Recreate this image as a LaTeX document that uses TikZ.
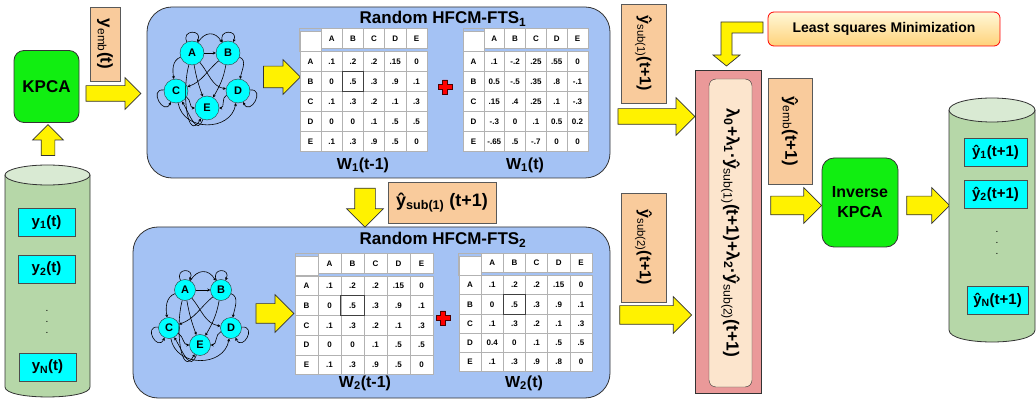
\documentclass[tikz,border=0pt]{standalone}
\usepackage{fontspec}
\setmainfont{Liberation Sans}
\usetikzlibrary{shapes.arrows, arrows.meta, positioning, matrix}

\definecolor{hfcmblue}{HTML}{A4C2F4}
\definecolor{tagorange}{HTML}{F9CB9C}
\definecolor{kpcagreen}{HTML}{11EE11}
\definecolor{nodecyan}{HTML}{00FFFF}
\definecolor{dbgreen}{HTML}{B6D7A8}
\definecolor{dbtop}{HTML}{D9EAD3}
\definecolor{mixpink}{HTML}{EA9999}
\definecolor{mixcream}{HTML}{FCE5CD}
\definecolor{lsqtop}{HTML}{FFF8D8}
\definecolor{lsqbottom}{HTML}{FFD27A}
\definecolor{edgegray}{HTML}{333333}

\newcommand{\fsz}[1]{\fontsize{#1}{#1}\selectfont}
\newcommand{\sbr}[1]{\textsubscript{\mdseries #1}}
% chunky red plus between two weight matrices
\newcommand{\redplus}[1]{%
  \filldraw[fill=red, draw=black!70!red, line width=0.5pt] (#1) ++(-2.5,-7)
    -- ++(5,0) -- ++(0,4.5) -- ++(4.5,0) -- ++(0,5) -- ++(-4.5,0) -- ++(0,4.5)
    -- ++(-5,0) -- ++(0,-4.5) -- ++(-4.5,0) -- ++(0,-5) -- ++(4.5,0) -- cycle;}

\tikzset{
  hfcm/.style={rectangle, rounded corners=25, draw=edgegray, fill=hfcmblue, line width=0.8pt},
  tag/.style={rectangle, draw=black!65, fill=tagorange, inner sep=2pt, font=\bfseries\fsz{17}},
  kpcabox/.style={rectangle, rounded corners=10, draw=edgegray, fill=kpcagreen, line width=0.8pt,
    align=center, font=\bfseries\fsz{17}},
  ybox/.style={rectangle, draw=black!70, fill=nodecyan, inner sep=1pt, minimum height=28, font=\bfseries\fsz{15}},
  fcm/.style={circle, draw=edgegray, fill=nodecyan, inner sep=0, font=\bfseries\fsz{11}},
  fcmedge/.style={-{Stealth[length=3pt,width=3pt]}, line width=0.6pt},
  wtab/.style 2 args={matrix of nodes, nodes in empty cells, column sep=-0.5pt, row sep=-0.5pt,
    nodes={rectangle, draw=black!30, fill=white, line width=0.5pt, inner sep=0,
      minimum width=#1, minimum height=#2, font=\bfseries\fsz{8}}},
  fat/.style 2 args={single arrow, draw=edgegray, fill=yellow, line width=0.7pt,
    minimum width=0, inner xsep=0, inner ysep=#1, single arrow head extend=#2},
}

\begin{document}
\begin{tikzpicture}[x=1pt, y=-1pt]
\fill[white] (0,0) rectangle (1036,403);
\useasboundingbox (0,0) rectangle (1036,403);

% input database
\fill[dbgreen] (5,175) -- (5,387) .. controls (5,400.3) and (90,400.3) .. (90,387) -- (90,175) -- cycle;
\draw[edgegray, line width=0.8pt] (5,175) -- (5,387) .. controls (5,400.3) and (90,400.3) .. (90,387) -- (90,175);
\filldraw[fill=dbtop, draw=edgegray, line width=0.8pt] (47.5,175) ellipse[x radius=42.5, y radius=10];
\node[ybox, minimum width=57] (y1) at (46.5,222.5) {y\textsubscript{1}(t)};
\node[ybox, minimum width=57] (y2) at (46.5,269) {y\textsubscript{2}(t)};
\node[font=\fontsize{10}{11}\selectfont, align=center, inner sep=0] (ydots) at (47,322) {.\\.\\.};
\node[ybox, minimum width=57] (yN) at (47.5,367) {y\textsubscript{N}(t)};

\node[kpcabox, minimum width=65, minimum height=72] (kpca) at (46.5,86.5) {KPCA};
\node[fat={6.5}{8.5}, minimum height=31, rotate=90] (upa) at (48,143.5) {};
\node[fat={7.5}{8}, minimum height=55] (kpa) at (109.5,93.5) {};
\node[tag, rotate=-90, minimum width=74, minimum height=30] (yemb) at (105,44) {y\sbr{emb}(t)};

% the two random HFCM-FTS blocks
\node[hfcm, minimum width=463, minimum height=171] (box1) at (378.5,92.5) {};
\node[hfcm, minimum width=477, minimum height=171] (box2) at (371.5,312.5) {};
\node[font=\bfseries\fsz{17}] (title1) at (443,19) {Random HFCM-FTS\textsubscript{1}};
\node[font=\bfseries\fsz{17}] (title2) at (443,240) {Random HFCM-FTS\textsubscript{2}};

\foreach \g/\gx/\gy/\r in {1/0/0/24, 2/-7/237/21} {
  \begin{scope}[shift={(\gx,\gy)}]
    \node[fcm, minimum size=\r] (g\g-A) at (192,53) {A};
    \node[fcm, minimum size=\r] (g\g-B) at (228,53) {B};
    \node[fcm, minimum size=\r] (g\g-C) at (176,91) {C};
    \node[fcm, minimum size=\r] (g\g-D) at (238,91) {D};
    \node[fcm, minimum size=\r] (g\g-E) at (207,108) {E};
    \draw[fcmedge] (g\g-A) -- (g\g-B);
    \draw[fcmedge] (g\g-A) to[loop, out=115, in=65, min distance=14] (g\g-A);
    \draw[fcmedge] (g\g-B) to[loop, out=115, in=65, min distance=14] (g\g-B);
    \draw[fcmedge] (g\g-C) to[loop, out=175, in=245, min distance=16] (g\g-C);
    \draw[fcmedge] (g\g-D) to[loop, out=5, in=-65, min distance=16] (g\g-D);
    \draw[fcmedge] (g\g-A) to[out=60, in=120, looseness=1.4] (g\g-B);
    \draw[fcmedge] (g\g-A) to[out=200, in=100] (g\g-C);
    \draw[fcmedge] (g\g-B) to[out=-20, in=80] (g\g-D);
    \draw[fcmedge] (g\g-B) to[out=220, in=20] (g\g-C);
    \draw[fcmedge] (g\g-A) to[out=-50, in=170] (g\g-D);
    \draw[fcmedge] (g\g-A) to[out=-80, in=110] (g\g-E);
    \draw[fcmedge] (g\g-B) to[out=-100, in=60] (g\g-E);
    \draw[fcmedge] (g\g-C) to[out=-30, in=180] (g\g-E);
    \draw[fcmedge] (g\g-D) to[out=200, in=0] (g\g-E);
    \draw[fcmedge] (g\g-C) to[out=-80, in=-100, looseness=1.3] (g\g-D);
    \draw[fcmedge] (g\g-E) to[out=-110, in=-60, looseness=1.6] (g\g-C);
    \draw[fcmedge] (g\g-A) to[out=-105, in=-120, looseness=1.3] (g\g-E);
  \end{scope}
}
\node[fat={10.5}{6.5}, minimum height=37] (g1a) at (276.5,77) {};
\node[fat={9.5}{9}, minimum height=38] (g2a) at (270,313.5) {};

% weight matrices
\matrix[wtab={21.2}{20}] (w1a) at (363.5,90) {
 ~ & A & B & C & D & E \\
 A & .1 & .2 & .2 & .15 & 0 \\
 B & 0 & .5 & .3 & .9 & .1 \\
 C & .1 & .3 & .2 & .1 & .3 \\
 D & 0 & 0 & .1 & .5 & .5 \\
 E & .1 & .3 & .9 & .5 & 0 \\
};
\matrix[wtab={20.8}{20}] (w1b) at (525.5,90) {
 ~ & A & B & C & D & E \\
 A & .1 & -.2 & .25 & .55 & 0 \\
 B & 0.5 & -.5 & .35 & .8 & -.1 \\
 C & .15 & .4 & .25 & .1 & -.3 \\
 D & -.3 & 0 & .1 & 0.5 & 0.2 \\
 E & -.65 & .5 & -.7 & 0 & 0 \\
};
\matrix[wtab={23}{19.7}] (w2a) at (364,314) {
 ~ & A & B & C & D & E \\
 A & .1 & .2 & .2 & .15 & 0 \\
 B & 0 & .5 & .3 & .9 & .1 \\
 C & .1 & .3 & .2 & .1 & .3 \\
 D & 0 & 0 & .1 & .5 & .5 \\
 E & .1 & .3 & .9 & .5 & 0 \\
};
\matrix[wtab={22.2}{19.2}] (w2b) at (525.5,312.5) {
 ~ & A & B & C & D & E \\
 A & .1 & .2 & .2 & .15 & 0 \\
 B & 0 & .5 & .3 & .9 & .1 \\
 C & .1 & .3 & .2 & .1 & .3 \\
 D & 0.4 & 0 & .1 & .5 & .5 \\
 E & .1 & .3 & .9 & .8 & 0 \\
};
\foreach \w in {w1a, w1b, w2a, w2b}
  \draw[black!30, line width=0.5pt] (\w-1-1.west |- \w-1-2.north) rectangle (\w-2-1.north east);
\foreach \w in {w1a, w2a, w2b}
  \draw[black!75, line width=0.6pt] (\w-3-3.north west) rectangle (\w-3-3.south east);
\redplus{445,87}
\redplus{443,318}
\node[font=\bfseries\fsz{16}] (w1alab) at (363,165) {W\textsubscript{1}(t-1)};
\node[font=\bfseries\fsz{16}] (w1blab) at (525,165) {W\textsubscript{1}(t)};
\node[font=\bfseries\fsz{16}] (w2alab) at (365,383) {W\textsubscript{2}(t-1)};
\node[font=\bfseries\fsz{16}] (w2blab) at (524,383) {W\textsubscript{2}(t)};

\node[fat={10}{8}, minimum height=39, rotate=-90] (dna) at (365,202.5) {};
\node[tag, minimum width=108, minimum height=41, font=\bfseries\fsz{18}] (ysub1h) at (442,202.5)
  {ŷ\textsubscript{sub(1)} (t+1)};

% combination of the sub-model outputs
\node[fat={7.5}{11}, minimum height=77] (s1a) at (652.5,116.5) {};
\node[fat={9}{9}, minimum height=72] (s2a) at (651,315) {};
\node[tag, rotate=-90, minimum width=99, minimum height=45, font=\bfseries\fsz{16}] (ysub1) at (643.5,53.5)
  {ŷ\sbr{sub(1)}(t+1)};
\node[tag, rotate=-90, minimum width=109, minimum height=45, font=\bfseries\fsz{16}] (ysub2) at (643.5,247.5)
  {ŷ\sbr{sub(2)}(t+1)};

\node[rectangle, rounded corners=6, draw=red, line width=0.8pt, top color=lsqtop, bottom color=lsqbottom,
  minimum width=232, minimum height=34, font=\bfseries\fsz{14}] (lsq) at (884,29) {Least squares Minimization};
\draw[draw=edgegray, fill=yellow, line width=0.7pt] (763,22) -- (721,22) -- (721,55) -- (713,55)
  -- (726.5,66) -- (740,55) -- (732,55) -- (732,33) -- (763,33) -- cycle;

\node[draw=edgegray, fill=mixpink, line width=0.8pt, minimum width=66, minimum height=323, inner sep=0]
  (mixout) at (728,231.5) {};
\node[draw=edgegray, fill=mixcream, rounded corners=7, rotate=-90, minimum width=308, minimum height=43,
  inner sep=0, font=\bfseries\fsz{17.5}] (mix) at (730.5,233)
  {λ\textsubscript{0}+λ\textsubscript{1}·ŷ\sbr{sub(1)}(t+1)+λ\textsubscript{2}·ŷ\sbr{sub(2)}(t+1)};

\node[tag, rotate=-90, minimum width=106, minimum height=44] (yembh) at (790,131) {ŷ\sbr{emb}(t+1)};
\node[fat={9}{8.5}, minimum height=51] (mxa) at (791.5,205.5) {};
\node[kpcabox, rounded corners=12, minimum width=76, minimum height=89, font=\bfseries\fontsize{16}{20}\selectfont]
  (ikpca) at (860,202.5) {Inverse\\KPCA};
\node[fat={9}{8.5}, minimum height=43] (iva) at (923.5,205.5) {};

% output database
\fill[dbgreen] (949,110) -- (949,330) .. controls (949,346) and (1035,346) .. (1035,330) -- (1035,110) -- cycle;
\draw[edgegray, line width=0.8pt] (949,110) -- (949,330) .. controls (949,346) and (1035,346) .. (1035,330) -- (1035,110);
\filldraw[fill=dbtop, draw=edgegray, line width=0.8pt] (992,110) ellipse[x radius=43, y radius=12];
\node[ybox, minimum width=63] (yh1) at (995.5,152.5) {ŷ\textsubscript{1}(t+1)};
\node[ybox, minimum width=63] (yh2) at (995.5,194) {ŷ\textsubscript{2}(t+1)};
\node[font=\fontsize{10}{11}\selectfont, align=center, inner sep=0] (yhdots) at (997,243) {.\\.\\.};
\node[ybox, minimum width=61] (yhN) at (997.5,300.5) {ŷ\textsubscript{N}(t+1)};
\end{tikzpicture}
\end{document}
